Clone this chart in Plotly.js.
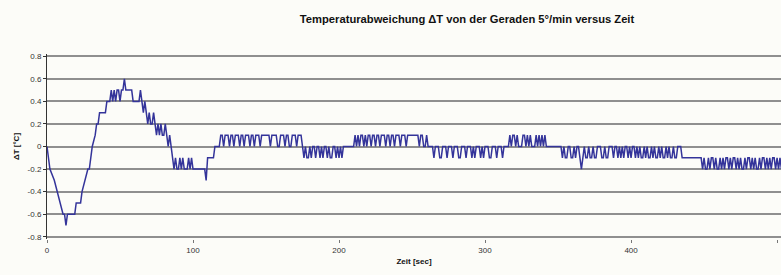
<!DOCTYPE html>
<html><head><meta charset="utf-8">
<script src="https://cdn.plot.ly/plotly-3.0.1.min.js"></script>
<style>html,body{margin:0;padding:0;background:#fcfcf8;}#chart{width:781px;height:275px;}</style>
</head><body><div id="chart"></div>
<script>
// Time [sec] and ΔT [°C] per segment
const tRamp = [0,1,2,5,7,9,11,12,13,14,19,20,23,24,26,28,29,30,31,33,34,35,36,40,41,43,44,45,46,47,48,49,50,51,52,53,54,58,59,63,64,65,66,67,68,69,70,71,72,73,74,75,76,77,78,79,80,81,82,83,84,85,86,87,88,89,90,91,92,93,94,96,97,98,99,100,108,109,110,114,115,118];
const vRamp = [0,-0.1,-0.2,-0.3,-0.4,-0.5,-0.6,-0.6,-0.7,-0.6,-0.6,-0.5,-0.5,-0.4,-0.3,-0.2,-0.2,-0.1,0,0.1,0.2,0.2,0.3,0.3,0.4,0.4,0.5,0.4,0.5,0.4,0.5,0.5,0.4,0.5,0.5,0.6,0.5,0.5,0.4,0.4,0.5,0.4,0.3,0.4,0.3,0.2,0.3,0.2,0.2,0.3,0.2,0.1,0.2,0.1,0.2,0.1,0.1,0.2,0.1,0,0.1,0,-0.1,-0.2,-0.1,-0.2,-0.2,-0.1,-0.2,-0.1,-0.2,-0.2,-0.1,-0.2,-0.1,-0.2,-0.2,-0.3,-0.1,-0.1,0,0];

const tB = [119,120,121,122,123,124,125,126,127,128,129,130,131,132,133,134,135,136,137,138,139,140,141,142,143,144,145,146,147,148,149,150,151,152,153,154,155,156,157,158,159,160,161,162,163,164,165,166,167,168,169,170,171,172,173,174,175];
const vB = [0.1,0.1,0,0.1,0.1,0.1,0,0.1,0.1,0,0.1,0.1,0.1,0,0.1,0.1,0,0.1,0.1,0.1,0,0.1,0.1,0,0.1,0.1,0.1,0,0.1,0.1,0.1,0.1,0.1,0.1,0,0.1,0.1,0.1,0.1,0,0,0.1,0.1,0.1,0,0.1,0.1,0,0,0.1,0.1,0.1,0,0.1,0.1,0.1,0];

const tC = [176,177,178,179,180,181,182,183,184,185,186,187,188,189,190,191,192,193,194,195,196,197,198,199,200,201,202,203,204,210];
const vC = [-0.1,0,-0.1,-0.1,0,-0.1,0,0,-0.1,0,0,-0.1,0,-0.1,0,0,-0.1,0,-0.1,-0.1,0,0,-0.1,0,-0.1,0,-0.1,0,0,0];

const tE = [211,212,213,214,215,216,217,218,219,220,221,222,223,224,225,226,227,228,229,230,231,232,233,234,235,236,237,238,239,240,241,242,243,244,245,246,247,248,249,250,251,252,253,254,255,256,257,258,259,260,261];
const vE = [0.1,0,0.1,0,0.1,0.1,0,0.1,0,0.1,0.1,0,0.1,0.1,0,0.1,0.1,0,0.1,0.1,0.1,0,0.1,0.1,0,0.1,0.1,0,0.1,0.1,0.1,0,0.1,0.1,0.1,0,0.1,0.1,0.1,0.1,0.1,0.1,0.1,0.1,0,0.1,0.1,0,0,0.1,0];

const tF = [262,264,265,266,268,269,270,271,273,274,275,277,278,279,281,282,283,284,286,287,288,290,291,292,293,294,296,297,298,299,300,302,303,304,305,307,308,309,311,312,313,316];
const vF = [0,0,-0.1,0,0,-0.1,-0.1,0,0,-0.1,0,0,-0.1,0,0,-0.1,-0.1,0,0,-0.1,0,0,-0.1,0,-0.1,0,0,-0.1,0,-0.1,0,0,-0.1,-0.1,0,0,-0.1,0,0,-0.1,0,0];

const tG = [317,318,319,320,321,322,323,325,326,327,328,329,330,331,332,334,335,336,337,338,339,340,341,342,343,352];
const vG = [0.1,0,0.1,0.1,0,0.1,0,0,0.1,0.1,0,0.1,0,0.1,0,0,0.1,0,0.1,0,0.1,0,0.1,0,0,0];

const tI = [353,354,355,356,357,358,359,360,361,362,363,364,365,366,367,368,369,370,371,372,373,374,375,376,377,378,379,380,381,382,383,384,385,386,387,388,389,390,391,392,393,394,395,396,397,398,399,400,401,402,403,404,405,406,407,408,409,410,411,412,413,414,415,416,417,418,419,420,421,422,423,424,425,426,427,428,429,430,431,432,433,434,435,436,448];
const vI = [-0.1,0,-0.1,-0.1,0,0,-0.1,-0.1,0,-0.1,0,0,-0.1,-0.2,-0.1,0,-0.1,-0.1,0,-0.1,-0.1,0,-0.1,-0.1,0,0,0,-0.1,-0.1,0,-0.1,-0.1,0,0,0,-0.1,0,0,-0.1,0,-0.1,0,-0.1,0,0,-0.1,0,-0.1,0,0,-0.1,0,-0.1,0,-0.1,-0.1,0,-0.1,0,-0.1,-0.1,0,-0.1,0,-0.1,-0.1,0,-0.1,0,-0.1,-0.1,0,-0.1,0,-0.1,-0.1,0,-0.1,-0.1,0,0,0,-0.1,-0.1,-0.1];

const tK = [449,450,451,452,453,454,455,456,457,458,459,460,461,462,463,464,465,466,467,468,469,470,471,472,473,474,475,476,477,478,479,480,481,482,483,484,485,486,487,488,489,490,491,492,493,494,495,496,497,498,499,500,501,502,503];
const vK = [-0.2,-0.1,-0.2,-0.2,-0.1,-0.2,-0.1,-0.1,-0.2,-0.1,-0.2,-0.2,-0.1,-0.2,-0.1,-0.2,-0.1,-0.1,-0.2,-0.1,-0.2,-0.1,-0.1,-0.2,-0.1,-0.2,-0.1,-0.2,-0.2,-0.1,-0.2,-0.1,-0.1,-0.2,-0.1,-0.2,-0.1,-0.2,-0.2,-0.1,-0.2,-0.1,-0.1,-0.2,-0.1,-0.2,-0.1,-0.2,-0.1,-0.1,-0.2,-0.1,-0.2,-0.1,-0.2];

const xTickVals = [0,100,200,300,400,500];
const xTickText = ['0','100','200','300','400','500'];
const yTickVals = [0.8,0.6,0.4,0.2,0,-0.2,-0.4,-0.6,-0.8];
const yTickText = ['0.8','0.6','0.4','0.2','0','-0.2','-0.4','-0.6','-0.8'];

const timeSec = [].concat(tRamp,tB,tC,tE,tF,tG,tI,tK);
const deltaT = [].concat(vRamp,vB,vC,vE,vF,vG,vI,vK);

const fam = '"Liberation Sans Narrow", "Arial Narrow", "Liberation Sans", Arial, sans-serif';
const trace = {
  x: timeSec, y: deltaT, type: 'scatter', mode: 'lines',
  line: {color: '#34349a', width: 1.5},
  hoverinfo: 'skip'
};
const layout = {
  width: 781, height: 275,
  margin: {l: 47, r: 0, t: 54, b: 36},
  paper_bgcolor: '#fcfcf8', plot_bgcolor: '#fcfcf8',
  showlegend: false,
  title: {text: '<b>Temperaturabweichung ΔT von der Geraden 5°/min versus Zeit</b>',
          font: {family: fam, size: 11.2, color: '#111'},
          x: 0.598, xref: 'container', xanchor: 'center', y: 0.93, yref: 'container', yanchor: 'middle'},
  xaxis: {
    range: [0, 502.7], tickvals: xTickVals, ticktext: xTickText,
    showgrid: false, zeroline: false,
    showline: false,
    ticks: 'outside', ticklen: 3, tickcolor: '#777',
    tickfont: {family: fam, size: 8, color: '#333'},
    title: {text: '<b>Zeit [sec]</b>', font: {family: fam, size: 8, color: '#111'}, standoff: 4}
  },
  yaxis: {
    range: [-0.82, 0.82], tickvals: yTickVals, ticktext: yTickText,
    showgrid: true, gridcolor: '#8f8f8f', gridwidth: 2,
    zeroline: false,
    showline: true, linecolor: '#333', linewidth: 1,
    ticks: 'outside', ticklen: 3, tickcolor: '#333',
    tickfont: {family: fam, size: 8, color: '#333'},
    title: {text: '<b>ΔT [°C]</b>', font: {family: fam, size: 8, color: '#111'}, standoff: 6}
  }
};
Plotly.newPlot('chart', [trace], layout, {staticPlot: true, displayModeBar: false});
</script></body></html>
